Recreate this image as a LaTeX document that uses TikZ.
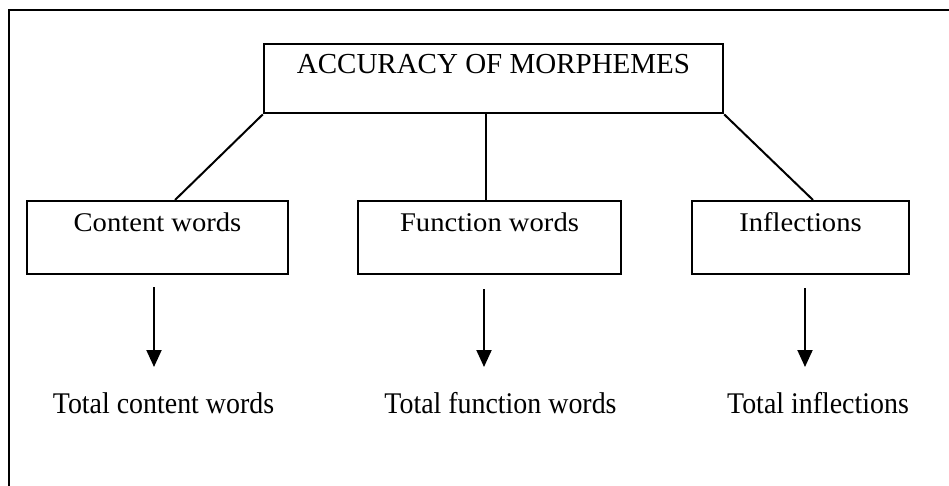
\documentclass[tikz,border=0pt]{standalone}
\usepackage{fontspec}
\setmainfont{Liberation Serif}
\usetikzlibrary{arrows.meta,calc}
\tikzset{
  frame/.style={line width=2.2pt},
  boxnode/.style={draw, line width=2.4pt, inner sep=0pt, anchor=north, align=center},
  conn/.style={line width=2pt},
  arr/.style={line width=2pt, -{Triangle[length=17pt,width=15pt]}},
  lbl/.style={anchor=base, inner sep=0pt}
}
\newcommand{\boxfont}{\fontsize{27}{30}\selectfont}
\newcommand{\topfont}{\fontsize{29}{32}\selectfont}
\newcommand{\lblfont}{\fontsize{30}{33}\selectfont}
\begin{document}
\begin{tikzpicture}[x=1pt,y=-1pt]
\useasboundingbox (0,0) rectangle (949,486);
% outer frame (top and left edges visible)
\coordinate (fTL) at (9,10);
\coordinate (fTR) at (949,10);
\coordinate (fBL) at (9,486);
\draw[frame] (fTR) -- (fTL) -- (fBL);

\node[boxnode, minimum width=459pt, text height=29pt, text depth=40pt] (top) at (493.5,43) {\topfont ACCURACY OF MORPHEMES};
\node[boxnode, minimum width=261pt, text height=30pt, text depth=43pt] (cw) at (157.5,200) {\boxfont\scalebox{1.06}[1]{Content words}};
\node[boxnode, minimum width=263pt, text height=30pt, text depth=43pt] (fw) at (489.5,200) {\boxfont\scalebox{1.06}[1]{Function words}};
\node[boxnode, minimum width=217pt, text height=30pt, text depth=43pt] (inf) at (800.5,200) {\boxfont\scalebox{1.06}[1]{Inflections}};

\coordinate (mB) at ($(fw.north)+(-3.5,0)$);
\coordinate (mT) at (mB |- top.south);
\draw[conn] (top.south west) -- ($(cw.north)+(17.5,0)$);
\draw[conn] (mT) -- (mB);
\draw[conn] (top.south east) -- ($(inf.north)+(12.5,0)$);

\node[lbl] (tc) at (163.5,413) {\lblfont\scalebox{0.93}[1]{Total content words}};
\node[lbl] (tf) at (500.5,413) {\lblfont\scalebox{0.93}[1]{Total function words}};
\node[lbl] (ti) at (818,413) {\lblfont\scalebox{0.93}[1]{Total inflections}};

\coordinate (a1) at ($(cw.south)+(-3.5,12)$);
\coordinate (a2) at ($(fw.south)+(-5.5,14)$);
\coordinate (a3) at ($(inf.south)+(4.5,13)$);
\coordinate (a1e) at (a1 |- 0,367);
\coordinate (a2e) at (a2 |- 0,367);
\coordinate (a3e) at (a3 |- 0,367);
\draw[arr] (a1) -- (a1e);
\draw[arr] (a2) -- (a2e);
\draw[arr] (a3) -- (a3e);
\end{tikzpicture}
\end{document}
